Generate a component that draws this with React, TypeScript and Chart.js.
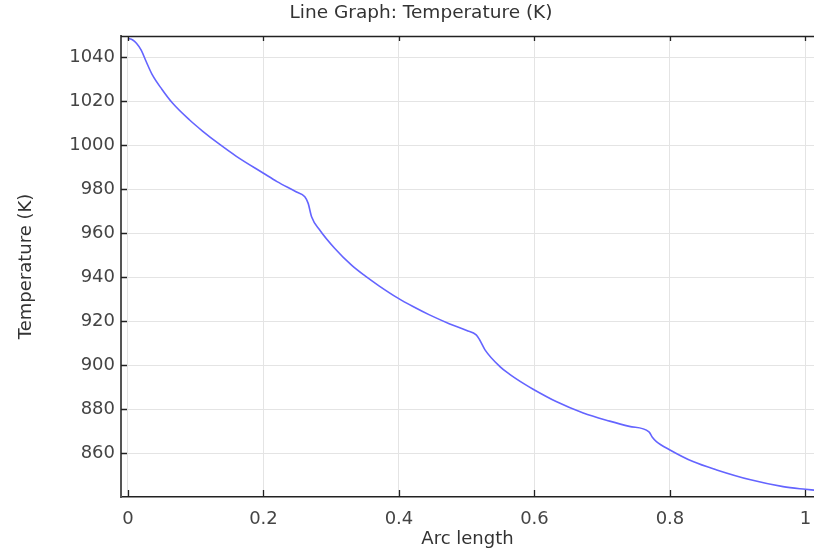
import React, { useEffect, useRef } from "react";
import { Chart, registerables } from "chart.js";

Chart.register(...registerables);

const arcLength = [
  0, 0.007, 0.0125, 0.0195, 0.027, 0.036, 0.05, 0.066, 0.091, 0.11, 0.135, 0.16, 0.2, 0.22,
  0.248, 0.261, 0.266, 0.271, 0.283, 0.305, 0.33, 0.35, 0.371, 0.3985, 0.42, 0.445, 0.475,
  0.5, 0.514, 0.519, 0.527, 0.549, 0.563, 0.586, 0.598, 0.632, 0.672, 0.711, 0.74, 0.769,
  0.774, 0.78, 0.8, 0.834, 0.869, 0.919, 0.967, 1.0, 1.013,
];
const temperature = [
  1048.6, 1047.9, 1046.4, 1043.3, 1038.0, 1032.0, 1025.5, 1019.1, 1011.5, 1006.5, 1000.5,
  995.0, 987.3, 983.5, 978.9, 976.6, 973.6, 967.5, 961.5, 953.2, 945.5, 940.6, 936.0, 930.5,
  926.8, 922.9, 918.8, 915.8, 913.8, 911.6, 907.0, 899.4, 896.0, 891.3, 889.1, 883.5, 878.3,
  874.6, 872.2, 869.7, 867.3, 865.3, 861.5, 856.2, 852.4, 847.9, 844.8, 843.6, 843.2,
];

const xTicks = [0, 0.2, 0.4, 0.6, 0.8, 1];
const xTickLabels = ["0", "0.2", "0.4", "0.6", "0.8", "1"];
const yTicks = [860, 880, 900, 920, 940, 960, 980, 1000, 1020, 1040];

const titleText = "Line Graph: Temperature (K)";
const xTitle = "Arc length";
const yTitle = "Temperature (K)";

const FONT = "'DejaVu Sans', sans-serif";

const framePlugin = {
  id: "frame",
  afterDraw(chart: any) {
    const { ctx, chartArea } = chart;
    const { left, right, top, bottom } = chartArea;
    const xs = chart.scales.x;
    const ys = chart.scales.y;
    ctx.save();
    ctx.strokeStyle = "#222";
    ctx.lineWidth = 1.5;
    ctx.beginPath();
    ctx.moveTo(left, top + 0.5);
    ctx.lineTo(right, top + 0.5);
    ctx.stroke();
    ctx.lineWidth = 1.3;
    ctx.beginPath();
    xTicks.forEach((v) => {
      const px = Math.round(xs.getPixelForValue(v)) + 0.5;
      ctx.moveTo(px, bottom);
      ctx.lineTo(px, bottom - 7);
      ctx.moveTo(px, top);
      ctx.lineTo(px, top + 5);
    });
    yTicks.forEach((v) => {
      const py = Math.round(ys.getPixelForValue(v)) + 0.5;
      ctx.moveTo(left, py);
      ctx.lineTo(left + 6, py);
    });
    ctx.stroke();
    ctx.fillStyle = "#333";
    ctx.font = `18.5px ${FONT}`;
    ctx.textAlign = "center";
    ctx.textBaseline = "middle";
    ctx.fillText(titleText, 421, 13);
    ctx.restore();
  },
};

export default function App() {
  const ref = useRef<HTMLCanvasElement | null>(null);
  useEffect(() => {
    if (!ref.current) return;
    const data = arcLength.map((x, i) => ({ x, y: temperature[i] }));
    const chart = new Chart(ref.current, {
      type: "scatter",
      data: {
        datasets: [
          {
            data,
            showLine: true,
            borderColor: "rgb(100,100,255)",
            borderWidth: 1.6,
            pointRadius: 0,
            cubicInterpolationMode: "monotone",
          },
        ],
      },
      options: {
        animation: false,
        responsive: false,
        layout: { padding: { top: 36, right: 0, bottom: 0, left: 0 } },
        plugins: { legend: { display: false }, tooltip: { enabled: false }, title: { display: false } },
        scales: {
          x: {
            type: "linear",
            min: -0.0103,
            max: 1.0126,
            afterBuildTicks: (s: any) => {
              s.ticks = xTicks.map((v) => ({ value: v }));
            },
            afterFit: (s: any) => {
              s.height = 57;
              s.paddingLeft = 0;
              s.paddingRight = 0;
            },
            ticks: {
              padding: 12,
              color: "#444",
              font: { family: FONT, size: 18 },
              maxRotation: 0,
              callback: (v: any) => {
                const i = xTicks.findIndex((t) => Math.abs(t - v) < 1e-9);
                return i >= 0 ? xTickLabels[i] : "";
              },
            },
            grid: { color: "#e4e4e4", drawTicks: false, lineWidth: 1 },
            border: { color: "#222", width: 1.5 },
            title: {
              display: true,
              text: xTitle,
              color: "#333",
              font: { family: FONT, size: 18 },
              padding: { top: 0, bottom: 4 },
            },
          },
          y: {
            type: "linear",
            min: 840.1,
            max: 1049.7,
            afterBuildTicks: (s: any) => {
              s.ticks = yTicks.map((v) => ({ value: v }));
            },
            afterFit: (s: any) => {
              s.width = 121;
              s.paddingTop = 0;
              s.paddingBottom = 0;
            },
            ticks: {
              padding: 6,
              color: "#444",
              font: { family: FONT, size: 18 },
              callback: (v: any) => String(v),
            },
            grid: { color: "#e4e4e4", drawTicks: false, lineWidth: 1 },
            border: { color: "#555", width: 2 },
            title: {
              display: true,
              text: yTitle,
              color: "#333",
              font: { family: FONT, size: 18 },
              padding: { top: 16, bottom: 0 },
            },
          },
        },
      },
      plugins: [framePlugin],
    });
    return () => chart.destroy();
  }, []);
  return (
    <div style={{ position: "absolute", left: 0, top: 0, width: 814, height: 554, background: "#fff" }}>
      <canvas ref={ref} width={814} height={554} style={{ display: "block" }} />
    </div>
  );
}
